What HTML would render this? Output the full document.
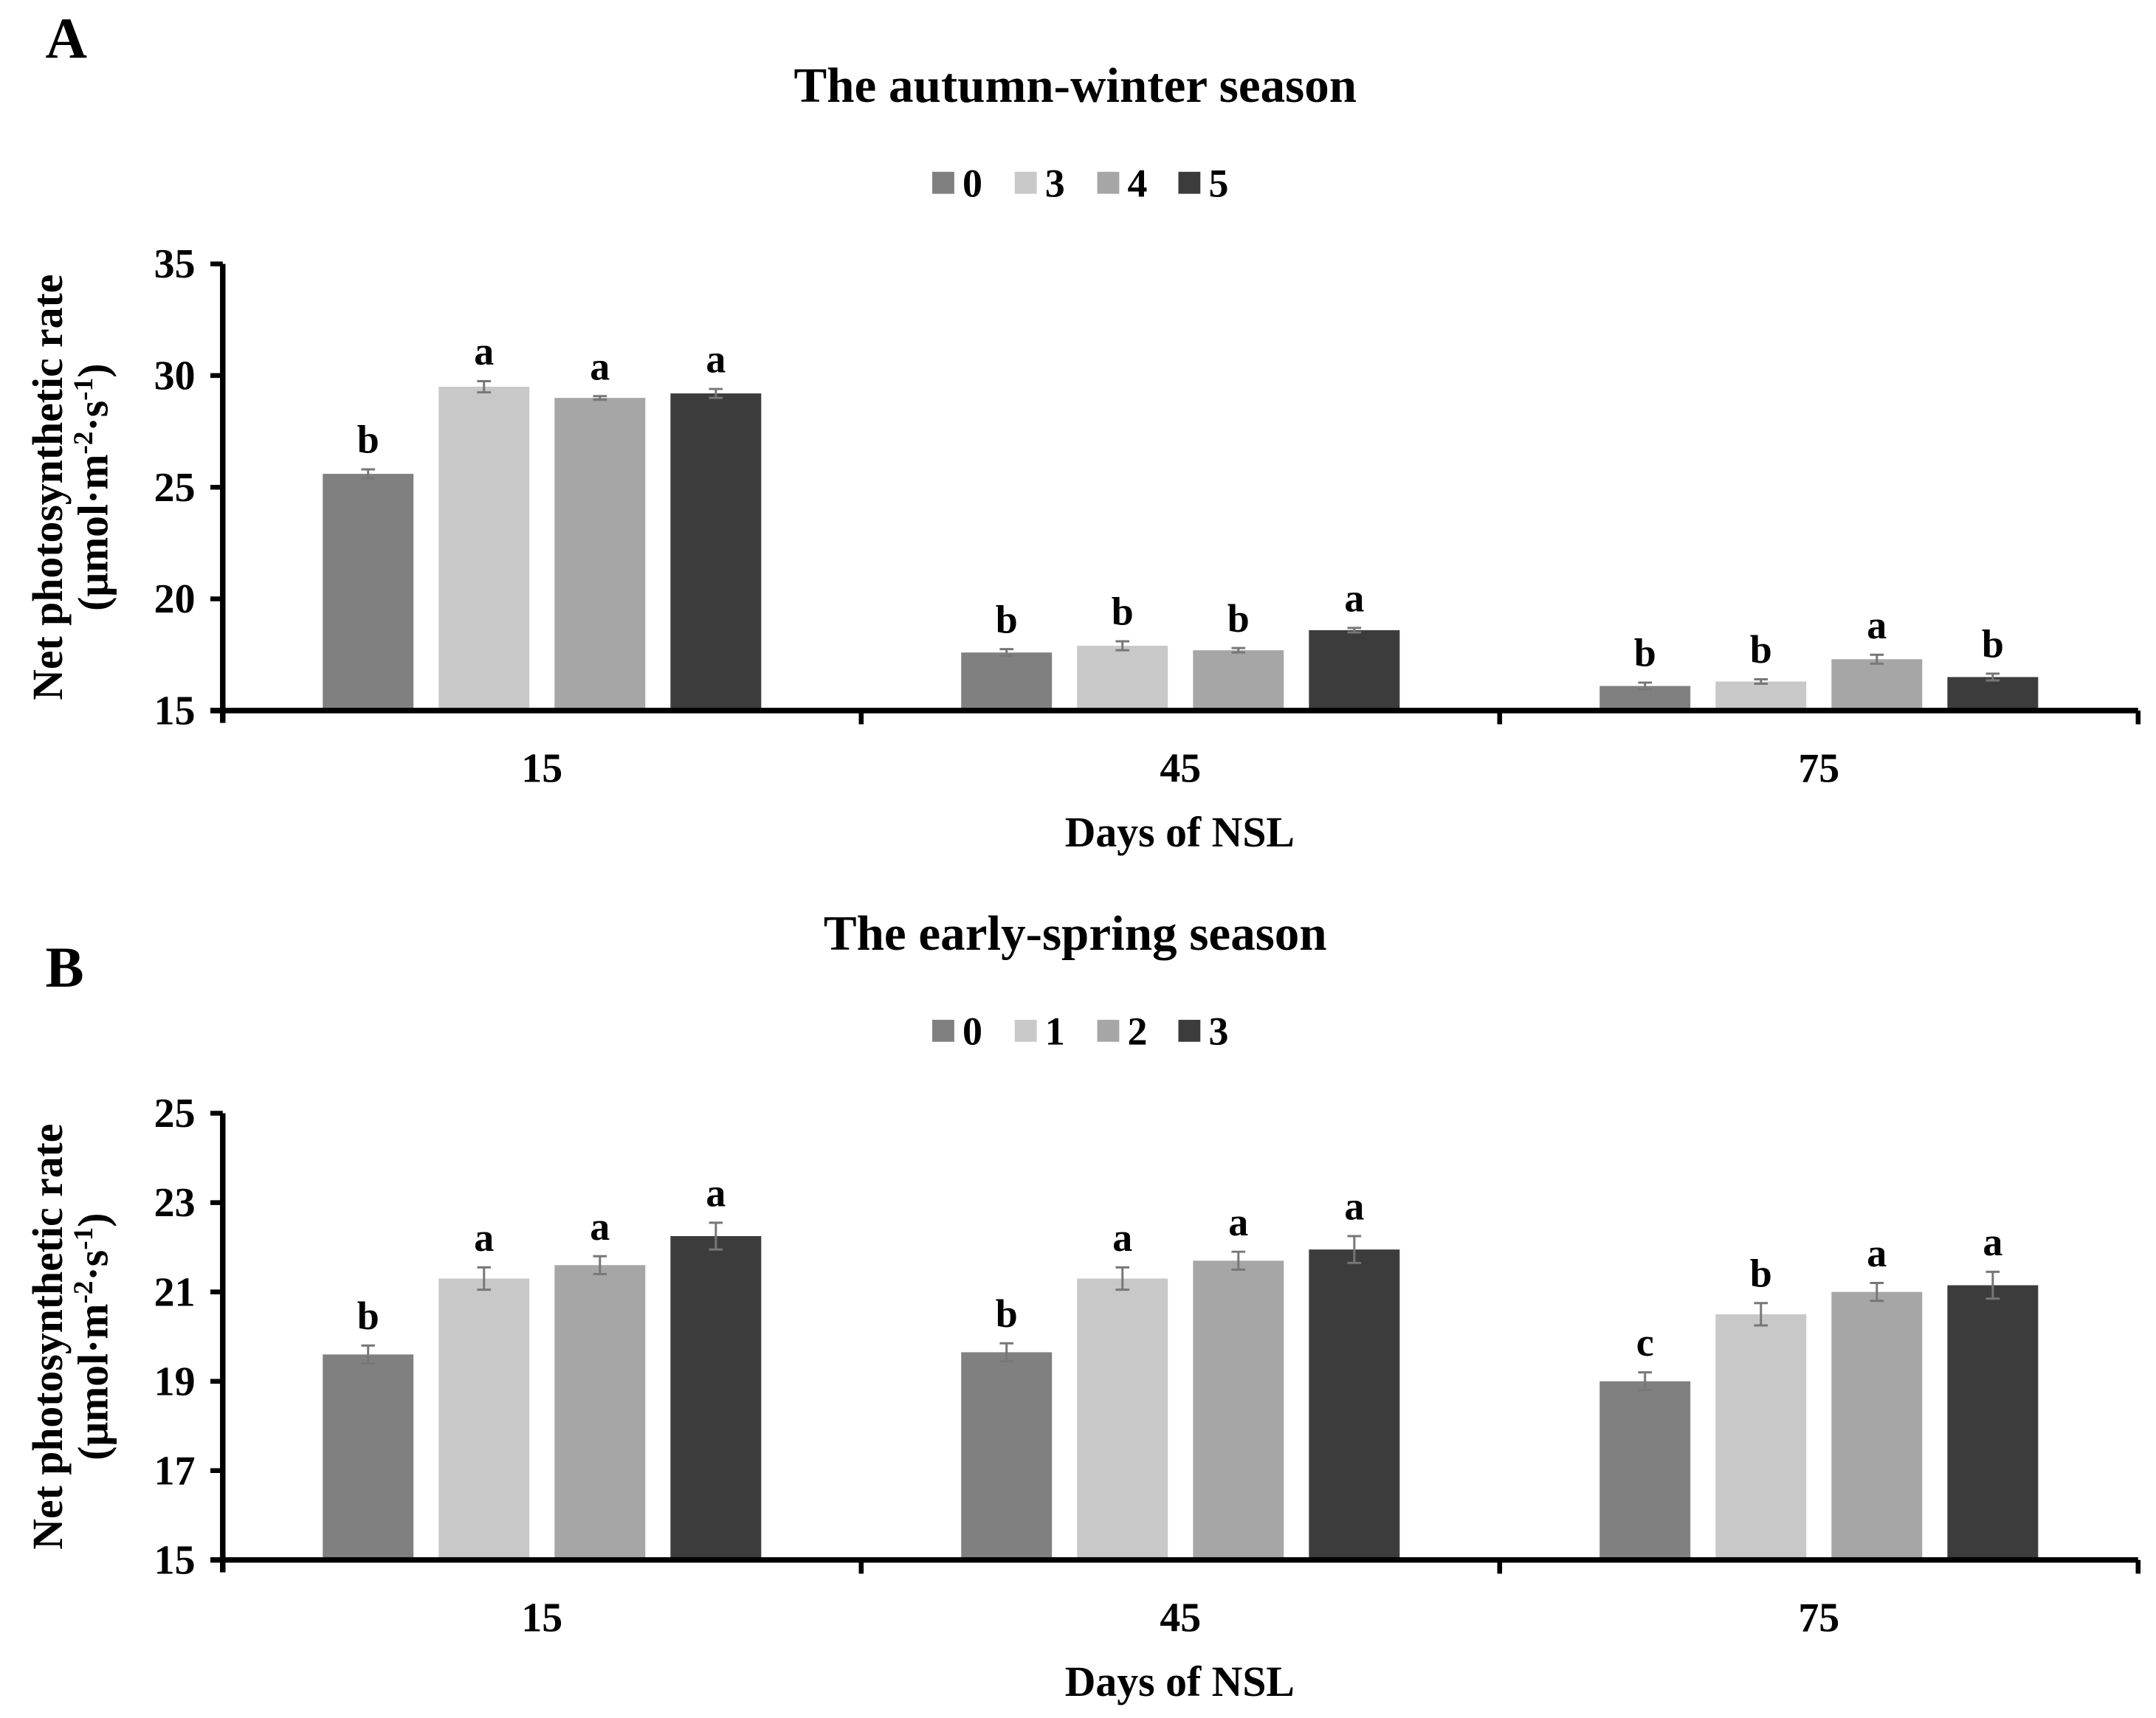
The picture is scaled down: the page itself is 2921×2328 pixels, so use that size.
<!DOCTYPE html>
<html><head><meta charset="utf-8"><style>
html,body{margin:0;padding:0;background:#fff;}
svg{display:block;font-family:"Liberation Serif",serif;font-weight:bold;}
</style></head><body>
<svg id="fig" width="2921" height="2328" viewBox="0 0 1568 1250" preserveAspectRatio="none" xmlns="http://www.w3.org/2000/svg">
<rect width="1568" height="1250" fill="#fff"/>
</svg>
<script>
const categories = ["15","45","75"];
const colors = ["#808080","#c8c8c8","#a6a6a6","#3c3c3c"];
const legendA = ["0","3","4","5"];
const valuesA = [[25.6,17.6,16.1],[29.5,17.9,16.3],[29.0,17.7,17.3],[29.2,18.6,16.5]];
const errorsA = [[0.2,0.15,0.15],[0.25,0.2,0.1],[0.08,0.1,0.2],[0.2,0.1,0.15]];
const lettersA = [["b","b","b"],["a","b","b"],["a","b","a"],["a","a","b"]];
const ticksA = [15,20,25,30,35];
const legendB = ["0","1","2","3"];
const valuesB = [[19.6,19.65,19.0],[21.3,21.3,20.5],[21.6,21.7,21.0],[22.25,21.95,21.15]];
const errorsB = [[0.2,0.2,0.2],[0.25,0.25,0.25],[0.2,0.2,0.2],[0.3,0.3,0.3]];
const lettersB = [["b","b","c"],["a","a","b"],["a","a","a"],["a","a","a"]];
const ticksB = [15,17,19,21,23,25];

const NS="http://www.w3.org/2000/svg";
const svg=document.getElementById('fig');
function mk(tag,attrs,parent){const e=document.createElementNS(NS,tag);for(const k in attrs)e.setAttribute(k,attrs[k]);(parent||svg).appendChild(e);return e;}
function txt(x,y,s,size,parent,anchor){const t=mk('text',{x:x,y:y,'font-size':size,'text-anchor':anchor||'middle',fill:'#000'},parent);t.textContent=s;return t;}

function panel(o){
  const g=mk('g',{});
  
  
  const x0=162,x1=1555,y0=o.yBottom,y1=o.yTop;
  const vmin=o.ticks[0],vmax=o.ticks[o.ticks.length-1];
  const ys=v=>y0-(v-vmin)/(vmax-vmin)*(y0-y1);
  const groupW=(x1-x0)/categories.length;
  const xc=i=>x0+groupW*(i+0.5);
  const pl=txt(33,o.letterY,o.letter,42,g,'start');
  
  
  const ti=txt(782,o.titleY,o.title,36,g);
  
  
  const lx=[678,738,798,857];
  o.legend.forEach((l,i)=>{
    const le=mk('g',{},g);
    
    
    mk('rect',{x:lx[i],y:o.legendY-18,width:16,height:16,fill:colors[i]},le);
    txt(lx[i]+22,o.legendY,l,29,le,'start');
  });
  const bw=66,pitch=84.3;
  for(let s=0;s<4;s++){
    for(let c=0;c<categories.length;c++){
      const v=o.values[s][c],e=o.errors[s][c];
      const bx=xc(c)+(s-1.5)*pitch-bw/2;
      const b=mk('rect',{x:bx,y:ys(v),width:bw,height:y0-ys(v),fill:colors[s]},g);
      
      
      const cx=bx+bw/2;
      const eb=mk('path',{d:`M${cx},${ys(v+e)}V${ys(v-e)}M${cx-5},${ys(v+e)}H${cx+5}M${cx-5},${ys(v-e)}H${cx+5}`,stroke:'#777','stroke-width':1.6,fill:'none'},g);
      
      
      const lt=txt(cx,ys(v+e)-12,o.letters[s][c],29,g);
      
      
    }
  }
  const ax=mk('path',{d:`M${x0},${y1}V${y0+9}M${x0-9},${y0}H${x1}`,stroke:'#000','stroke-width':4,fill:'none'},g);
  
  
  o.ticks.forEach(t=>{
    mk('path',{d:`M${x0-9},${ys(t)}H${x0}`,stroke:'#000','stroke-width':3.5},g);
    const tl=txt(x0-20,ys(t)+10,String(t),30,g,'end');
    
    
  });
  categories.forEach((c,i)=>{
    mk('path',{d:`M${x0+groupW*(i+1)},${y0}V${y0+10}`,stroke:'#000','stroke-width':3.5},g);
    const tl=txt(xc(i),y0+52,c,30,g);
    
    
  });
  const xt=txt(858,o.yBottom+99,'Days of NSL',31,g);
  
  
  const cy=(y0+y1)/2;
  const yt=mk('text',{transform:`translate(45,${cy}) rotate(-90)`,'text-anchor':'middle','font-size':31},g);
  
  
  const t1=mk('tspan',{x:0,y:0},yt);t1.textContent='Net photosynthetic rate';
  const t2=mk('tspan',{x:0,y:33},yt);t2.textContent='(μmol·m';
  const s1=mk('tspan',{'font-size':20,dy:-11},yt);s1.textContent='-2';
  const s2=mk('tspan',{dy:11},yt);s2.textContent='·s';
  const s3=mk('tspan',{'font-size':20,dy:-11},yt);s3.textContent='-1';
  const s4=mk('tspan',{dy:11},yt);s4.textContent=')';
}
panel({name:'panel-a',letter:'A',letterY:42,title:'The autumn-winter season',titleY:74,legendY:143,yTop:192,yBottom:517,ticks:ticksA,values:valuesA,errors:errorsA,letters:lettersA,legend:legendA});
panel({name:'panel-b',letter:'B',letterY:718,title:'The early-spring season',titleY:691,legendY:760,yTop:810,yBottom:1135,ticks:ticksB,values:valuesB,errors:errorsB,letters:lettersB,legend:legendB});
</script>
</body></html>
